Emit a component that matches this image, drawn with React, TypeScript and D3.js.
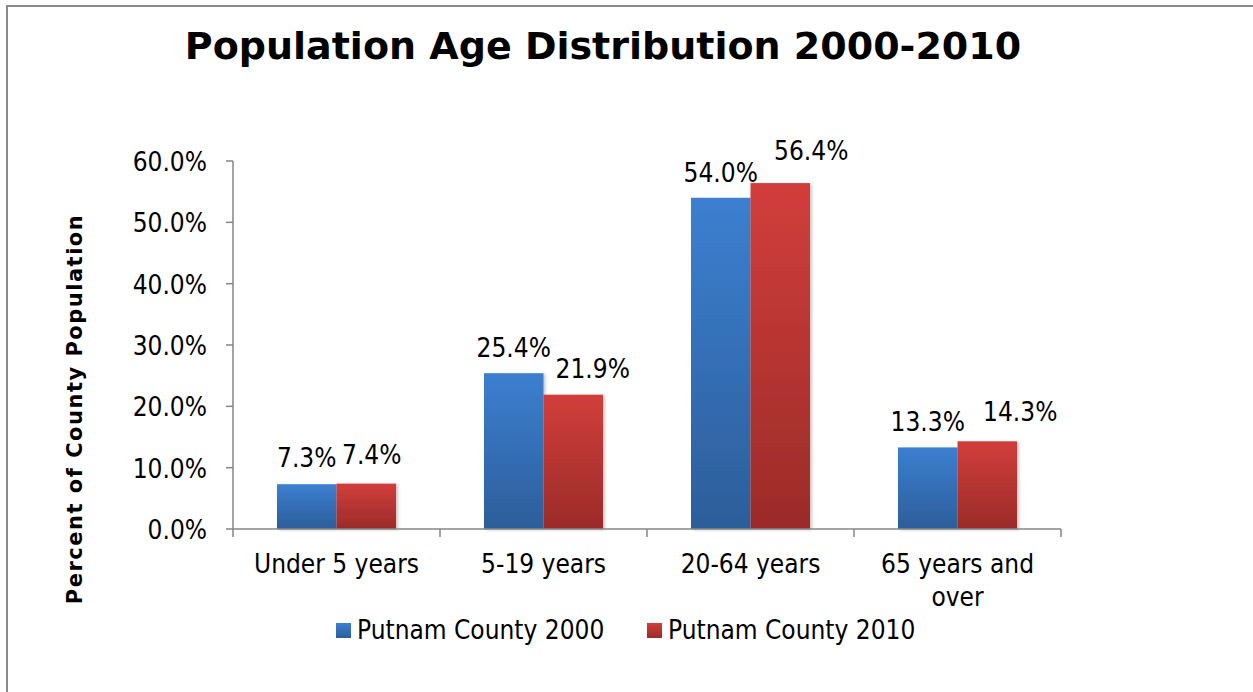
import React from "react";
import * as d3 from "d3";

const categories = ["Under 5 years", "5-19 years", "20-64 years", "65 years and over"];
const categoryLines = [["Under 5 years"], ["5-19 years"], ["20-64 years"], ["65 years and", "over"]];
const series2000 = [7.3, 25.4, 54.0, 13.3];
const series2010 = [7.4, 21.9, 56.4, 14.3];
const seriesNames = ["Putnam County 2000", "Putnam County 2010"];
const yTicks = [0, 10, 20, 30, 40, 50, 60];

const W = 1253, H = 692;
const FONT = "'DejaVu Sans Condensed', 'DejaVu Sans', Verdana, sans-serif";
const BOLD_FONT = "'DejaVu Sans', Verdana, sans-serif";

// label placement tweaks (style only): horizontal shift and gap above bar per series
const labelDx = [[0, 0, 0, 0], [5.5, 19.5, 31, 33]];
const labelGap = [[17, 16, 16, 16], [20, 17, 23, 20]];

export default function App() {
  const x0 = d3.scaleBand<string>().domain(categories).range([233, 1061]).paddingInner(0.425).paddingOuter(0.2125);
  const x1 = d3.scaleBand<string>().domain(seriesNames).range([0, x0.bandwidth()]);
  const y = d3.scaleLinear().domain([0, 60]).range([529, 161]);
  const data = [series2000, series2010];
  const grads = ["gBlue", "gRed"];
  const axisColor = "#868686";
  const boundaries = d3.range(categories.length + 1).map(i => 233 + (i * (1061 - 233)) / categories.length);

  return (
    <svg width={W} height={H} style={{ position: "fixed", left: 0, top: 0, background: "#fff" }} fontFamily={FONT}>
      <defs>
        <linearGradient id="gBlue" x1="0" y1="0" x2="0" y2="1">
          <stop offset="0" stopColor="#3c7fd0" />
          <stop offset="1" stopColor="#2c5e9a" />
        </linearGradient>
        <linearGradient id="gRed" x1="0" y1="0" x2="0" y2="1">
          <stop offset="0" stopColor="#d13e3b" />
          <stop offset="1" stopColor="#9b2b29" />
        </linearGradient>
        <filter id="shadow" x="-10%" y="-5%" width="130%" height="110%">
          <feDropShadow dx="2" dy="1" stdDeviation="1.5" floodColor="#000" floodOpacity="0.22" />
        </filter>
      </defs>
      <rect x={7} y={6} width={1400} height={900} fill="#fff" stroke="#8a8a8a" strokeWidth={2} />

      <text x={603} y={59} textAnchor="middle" fontSize={38} fontWeight="bold" fill="#000" fontFamily={BOLD_FONT}>
        Population Age Distribution 2000-2010
      </text>

      <text transform="translate(82,409) rotate(-90)" textAnchor="middle" fontSize={21} fontWeight="bold"
        letterSpacing={1.5} fill="#000" fontFamily={BOLD_FONT}>
        Percent of County Population
      </text>

      {/* y axis */}
      <line x1={233} y1={y(60)} x2={233} y2={y(0)} stroke={axisColor} strokeWidth={1.5} />
      {yTicks.map(t => (
        <g key={t}>
          <line x1={226} x2={233} y1={y(t)} y2={y(t)} stroke={axisColor} strokeWidth={1.5} />
          <text x={207} y={y(t) + 10} textAnchor="end" fontSize={26} fill="#000">
            {t.toFixed(1)}%
          </text>
        </g>
      ))}

      {/* bars */}
      {categories.map((c, i) => (
        <g key={c} transform={`translate(${x0(c)},0)`}>
          {seriesNames.map((s, j) => (
            <rect key={s} x={x1(s)} y={y(data[j][i])} width={x1.bandwidth()} height={y(0) - y(data[j][i])}
              fill={`url(#${grads[j]})`} filter="url(#shadow)" />
          ))}
          {seriesNames.map((s, j) => (
            <text key={s + "l"} x={(x1(s) as number) + x1.bandwidth() / 2 + labelDx[j][i]}
              y={y(data[j][i]) - labelGap[j][i]}
              textAnchor="middle" fontSize={26} fill="#000">
              {data[j][i].toFixed(1)}%
            </text>
          ))}
        </g>
      ))}

      {/* x axis */}
      <line x1={233} x2={1061} y1={y(0)} y2={y(0)} stroke={axisColor} strokeWidth={1.5} />
      {boundaries.map((b, i) => (
        <line key={i} x1={b} x2={b} y1={y(0)} y2={y(0) + 8} stroke={axisColor} strokeWidth={1.5} />
      ))}
      {categories.map((c, i) => (
        <text key={c} textAnchor="middle" fontSize={26} fill="#000">
          {categoryLines[i].map((ln, k) => (
            <tspan key={k} x={(x0(c) as number) + x0.bandwidth() / 2} y={573 + k * 33}>{ln}</tspan>
          ))}
        </text>
      ))}

      {/* legend */}
      {seriesNames.map((s, j) => {
        const lx = [336, 647][j];
        return (
          <g key={s}>
            <rect x={lx} y={623} width={15} height={15} fill={`url(#${grads[j]})`} />
            <text x={lx + 21} y={639} fontSize={26} fill="#000">{s}</text>
          </g>
        );
      })}
    </svg>
  );
}
